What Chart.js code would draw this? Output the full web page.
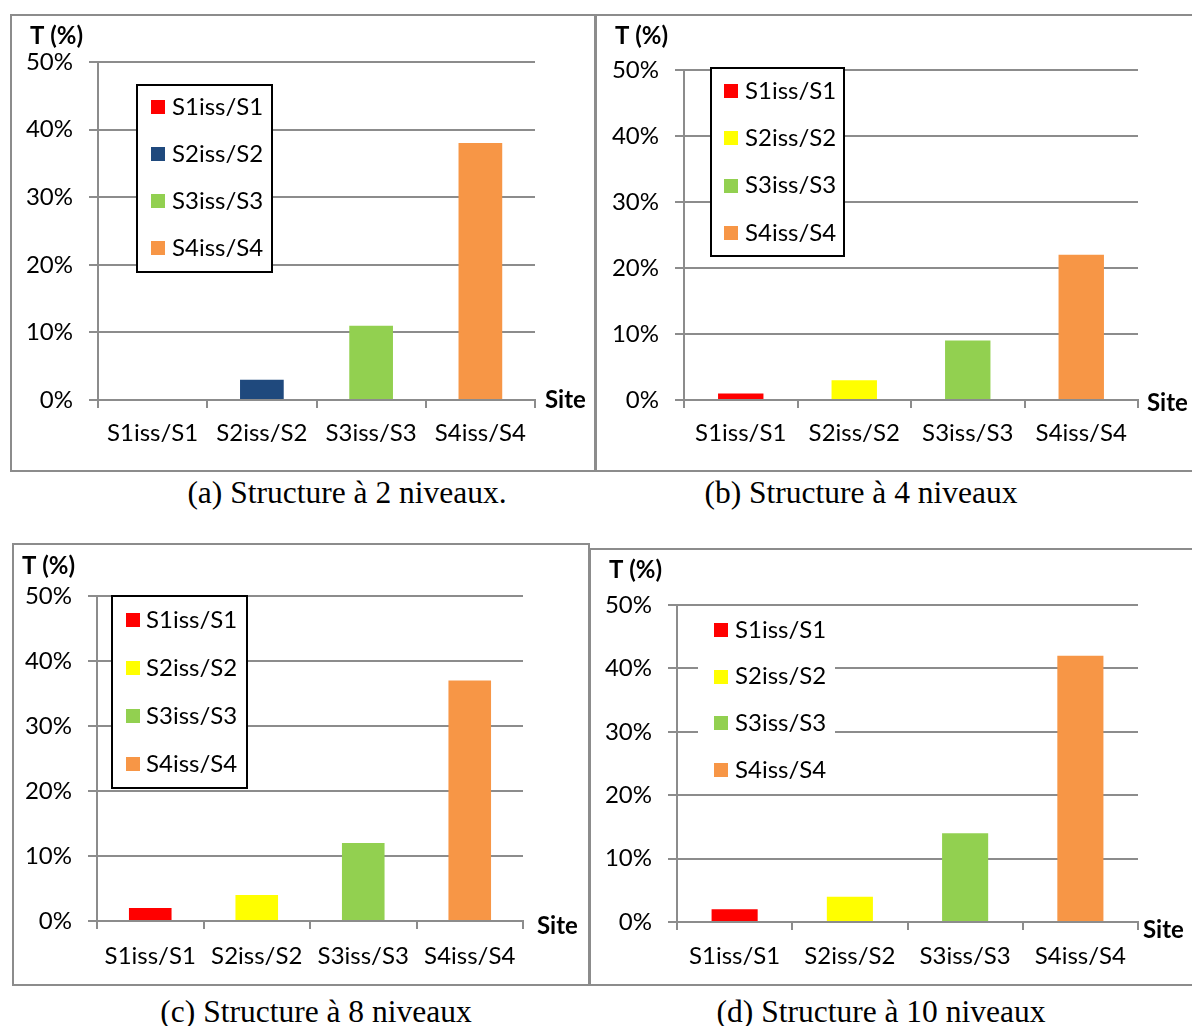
<!DOCTYPE html>
<html>
<head>
<meta charset="utf-8">
<script src="https://cdn.jsdelivr.net/npm/chart.js@4.4.0/dist/chart.umd.min.js"></script>
<style>
  html, body { margin: 0; padding: 0; background: #fff; }
  body { width: 1192px; height: 1026px; position: relative; overflow: hidden; }
  .frame { position: absolute; border: 2px solid #8c8c8c; box-sizing: border-box; }
  canvas { position: absolute; }
  .cap {
    position: absolute; white-space: nowrap; color: #000;
    font-family: "Liberation Serif", "Times New Roman", serif;
    font-size: 31.5px; line-height: 32px; transform: translateX(-50%);
  }
</style>
</head>
<body>
<script>
// Categories and values (T in %)
const sites = ['S1iss/S1', 'S2iss/S2', 'S3iss/S3', 'S4iss/S4'];
const level2 = [0, 3, 11, 38];
const level4 = [1, 3, 9, 22];
const level8 = [2, 4, 12, 37];
const level10 = [2, 4, 14, 42];
const yTicks = [0, 10, 20, 30, 40, 50];
const yAxisTitle = 'T (%)';
const xAxisTitle = 'Site';
const captions = [
  '(a) Structure à 2 niveaux.',
  '(b) Structure à 4 niveaux',
  '(c) Structure à 8 niveaux',
  '(d) Structure à 10 niveaux'
];
const colorsA = ['#ff0000', '#1f497d', '#92d050', '#f79646'];
const colorsB = ['#ff0000', '#ffff00', '#92d050', '#f79646'];

const GRID = '#8c8c8c';
const FONT = { family: 'Lato, "Open Sans", sans-serif', size: 24 };

// Draws the in-plot legend and the two axis titles
const panelDecor = {
  id: 'panelDecor',
  afterDatasetsDraw(chart, args, o) {
    const ctx = chart.ctx;
    const area = chart.chartArea;
    const y0 = chart.scales.y.getPixelForValue(0);
    const L = o.legend;
    const ds = chart.data.datasets[0];
    ctx.save();
    ctx.fillStyle = '#fff';
    ctx.fillRect(L.x, L.y, L.w, L.h);
    if (L.border) {
      ctx.lineWidth = 2;
      ctx.strokeStyle = '#000';
      ctx.strokeRect(L.x, L.y, L.w, L.h);
    }
    ctx.font = '24px ' + FONT.family;
    ctx.textBaseline = 'middle';
    ctx.textAlign = 'left';
    chart.data.labels.forEach((lab, i) => {
      const cy = L.y + L.first + i * L.gap;
      ctx.fillStyle = ds.backgroundColor[i];
      ctx.fillRect(L.x + L.sqX, Math.round(cy - 7), 14, 14);
      ctx.fillStyle = '#000';
      ctx.fillText(lab, L.x + L.textX, cy);
    });
    ctx.font = 'bold 24px ' + FONT.family;
    ctx.fillText(yAxisTitle, o.titleX, o.titleY);
    ctx.fillText(xAxisTitle, area.right + o.siteDx, y0 + o.siteDy);
    ctx.restore();
  }
};

const panels = [
  { left: 10, top: 14, w: 587, h: 458, axisX: 88, plotTop: 48, plotRight: 525, zeroY: 386,
    titleX: 20, titleY: 22, siteDx: 10, siteDy: 0, labelPad: 11,
    legend: { x: 127, y: 71, w: 135, h: 187, border: true, first: 22, gap: 47, sqX: 14, textX: 35 },
    values: level2, colors: colorsA, cap: { x: 347, y: 493 } },
  { left: 594, top: 14, w: 600, h: 458, axisX: 90, plotTop: 56, plotRight: 544, zeroY: 386,
    titleX: 21, titleY: 22, siteDx: 9, siteDy: 3, labelPad: 11,
    legend: { x: 117, y: 54, w: 133, h: 188, border: true, first: 23, gap: 47.3, sqX: 13, textX: 34 },
    values: level4, colors: colorsB, cap: { x: 861, y: 493 } },
  { left: 12, top: 543, w: 578, h: 443, axisX: 85, plotTop: 53, plotRight: 511, zeroY: 378,
    titleX: 10, titleY: 23, siteDx: 14, siteDy: 5, labelPad: 13,
    legend: { x: 100, y: 53, w: 135, h: 192, border: true, first: 24, gap: 48, sqX: 14, textX: 34 },
    values: level8, colors: colorsB, cap: { x: 316, y: 1012 } },
  { left: 589, top: 548, w: 605, h: 438, axisX: 88, plotTop: 57, plotRight: 549, zeroY: 374,
    titleX: 20, titleY: 22, siteDx: 5, siteDy: 8, labelPad: 12,
    legend: { x: 109, y: 67, w: 137, h: 170, border: false, first: 15, gap: 46.7, sqX: 16, textX: 37 },
    values: level10, colors: colorsB, cap: { x: 881, y: 1012 } }
];

function buildPanel(p, idx) {
  const frame = document.createElement('div');
  frame.className = 'frame';
  Object.assign(frame.style, { left: p.left + 'px', top: p.top + 'px', width: p.w + 'px', height: p.h + 'px' });
  document.body.appendChild(frame);

  const cv = document.createElement('canvas');
  cv.width = p.w; cv.height = p.h;
  Object.assign(cv.style, { left: p.left + 'px', top: p.top + 'px', width: p.w + 'px', height: p.h + 'px' });
  document.body.appendChild(cv);

  const cap = document.createElement('div');
  cap.className = 'cap';
  cap.textContent = captions[idx];
  Object.assign(cap.style, { left: p.cap.x + 'px', top: (p.cap.y - 16) + 'px' });
  document.body.appendChild(cap);

  new Chart(cv, {
    type: 'bar',
    data: {
      labels: sites,
      datasets: [{ data: p.values, backgroundColor: p.colors, borderWidth: 0,
                   barPercentage: 0.4, categoryPercentage: 1 }]
    },
    options: {
      responsive: false, animation: false, events: [],
      layout: { padding: { left: 0, top: p.plotTop, right: p.w - p.plotRight, bottom: 0 } },
      plugins: {
        legend: { display: false }, tooltip: { enabled: false },
        panelDecor: { legend: p.legend, titleX: p.titleX, titleY: p.titleY, siteDx: p.siteDx, siteDy: p.siteDy }
      },
      scales: {
        x: {
          grid: { drawOnChartArea: false, drawTicks: true, tickLength: 8, color: GRID, lineWidth: 2 },
          border: { display: true, color: GRID, width: 2 },
          ticks: { font: FONT, color: '#000', padding: p.labelPad, maxRotation: 0, autoSkip: false },
          afterFit(s) { s.height = p.h - p.zeroY; }
        },
        y: {
          min: 0, max: 50,
          grid: { color: GRID, lineWidth: 2, tickLength: 9 },
          border: { display: true, color: GRID, width: 2 },
          ticks: { font: FONT, color: '#000', padding: 16, callback: v => v + '%' },
          afterBuildTicks(s) { s.ticks = yTicks.map(v => ({ value: v })); },
          afterFit(s) { s.width = p.axisX; }
        }
      }
    },
    plugins: [panelDecor]
  });
}

const ready = document.fonts ? Promise.all([
  document.fonts.load('24px Lato'), document.fonts.load('bold 24px Lato'),
  document.fonts.load('31px "Liberation Serif"')
]).catch(() => {}) : Promise.resolve();
ready.then(() => panels.forEach(buildPanel));
</script>
</body>
</html>
